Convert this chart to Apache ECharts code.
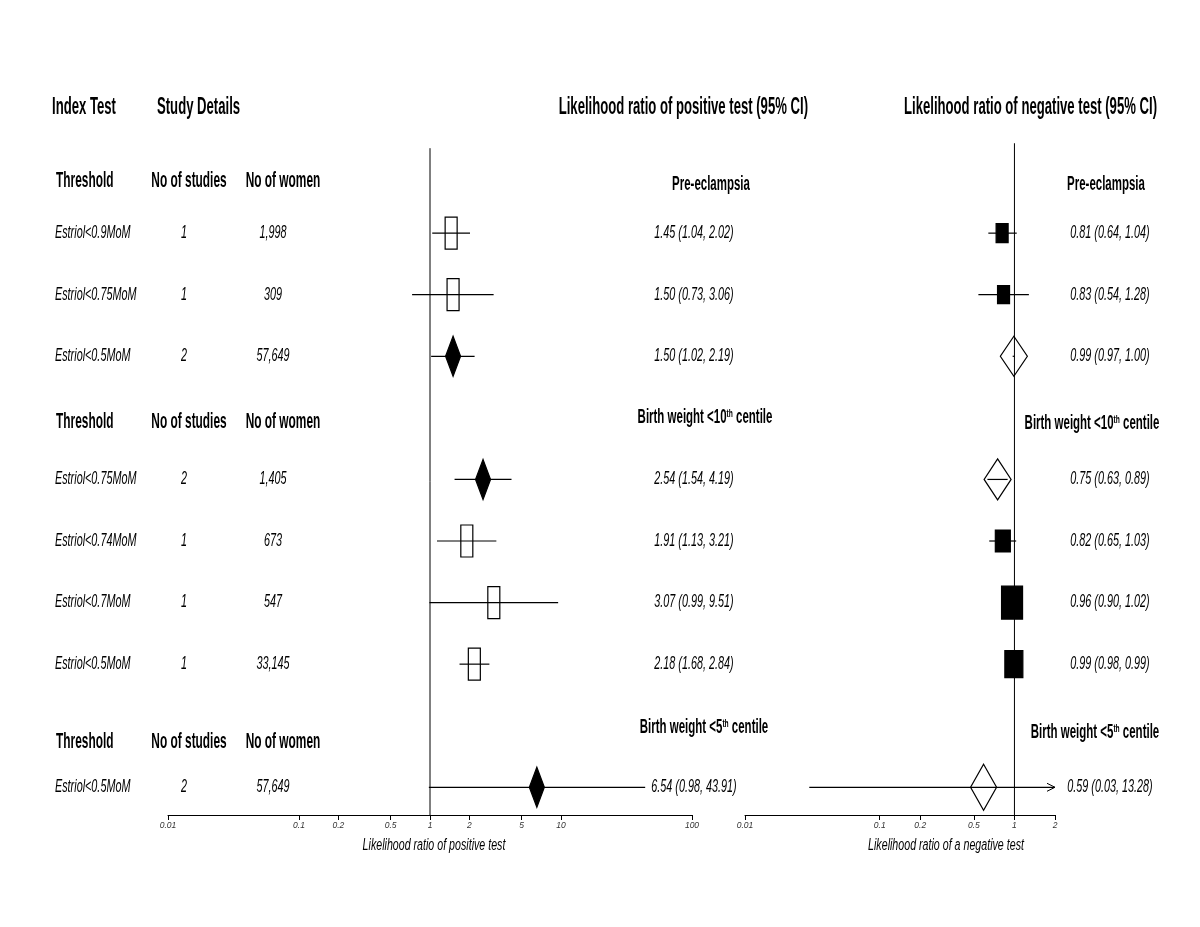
<!DOCTYPE html>
<html lang="en">
<head>
<meta charset="UTF-8">
<title>Estriol forest plot</title>
<script src="https://cdn.jsdelivr.net/npm/echarts@6/dist/echarts.min.js"></script>
</head>
<body style="margin:0;background:#fff;">
<div id="main" style="width:1200px;height:927px;"></div>
<script type="text/javascript">
// ---- data ----
var groups = ['Pre-eclampsia', 'Birth weight <10{sup|th} centile', 'Birth weight <5{sup|th} centile'];
var thresholds = ['Estriol<0.9MoM', 'Estriol<0.75MoM', 'Estriol<0.5MoM',
                  'Estriol<0.75MoM', 'Estriol<0.74MoM', 'Estriol<0.7MoM', 'Estriol<0.5MoM',
                  'Estriol<0.5MoM'];
var groupOf = [0, 0, 0, 1, 1, 1, 1, 2];
var nStudies = [1, 1, 2, 2, 1, 1, 1, 2];
var nWomen = [1998, 309, 57649, 1405, 673, 547, 33145, 57649];
var lrPos = [1.45, 1.50, 1.50, 2.54, 1.91, 3.07, 2.18, 6.54];
var lrPosLo = [1.04, 0.73, 1.02, 1.54, 1.13, 0.99, 1.68, 0.98];
var lrPosHi = [2.02, 3.06, 2.19, 4.19, 3.21, 9.51, 2.84, 43.91];
var lrNeg = [0.81, 0.83, 0.99, 0.75, 0.82, 0.96, 0.99, 0.59];
var lrNegLo = [0.64, 0.54, 0.97, 0.63, 0.65, 0.90, 0.98, 0.03];
var lrNegHi = [1.04, 1.28, 1.00, 0.89, 1.03, 1.02, 0.99, 13.28];
var posTicks = [0.01, 0.1, 0.2, 0.5, 1, 2, 5, 10, 100];
var negTicks = [0.01, 0.1, 0.2, 0.5, 1, 2];

// marker sizes [w, h] (drawing style)
var posSize = [[12, 32], [12, 32], [15, 40], [15, 40], [12, 32], [12, 32], [12, 32], [15, 40]];
var negSize = [[12, 19], [12, 18], [27, 40], [27, 41], [15, 22], [21, 33], [18, 27], [26, 46]];

// row index of each study, header rows in between
var rowOf = [], headRow = [];
var r = -1;
for (var i = 0; i < groupOf.length; i++) {
    if (i === 0 || groupOf[i] !== groupOf[i - 1]) { headRow.push(r); r++; }
    rowOf.push(r); r++;
}

function fmt(v) { return v.toFixed(2); }

var FONT = 'Liberation Sans';

function makeRender(panel, sizes, axisMax) {
    return function (params, api) {
        var i = params.dataIndex;
        var est = api.value(0), lo = api.value(1), hi = api.value(2), row = api.value(3);
        var clipped = hi > axisMax;
        var c = api.coord([est, row]);
        var a = api.coord([lo, row]);
        var b = api.coord([clipped ? axisMax : hi, row]);
        var pooled = nStudies[i] > 1;
        var filled = panel === 'pos' ? pooled : !pooled;
        var w = sizes[i][0], h = sizes[i][1];
        var kids = [{
            type: 'line',
            shape: { x1: a[0], y1: a[1], x2: b[0], y2: b[1] },
            style: { stroke: '#000', lineWidth: 1.2 }
        }];
        if (clipped) {
            kids.push({
                type: 'polyline',
                shape: { points: [[b[0] - 8, b[1] - 4], [b[0], b[1]], [b[0] - 8, b[1] + 4]] },
                style: { stroke: '#000', lineWidth: 1, fill: null }
            });
        }
        var st = { stroke: '#000', lineWidth: 1.2, fill: filled ? '#000' : null };
        if (pooled) {
            kids.push({
                type: 'polygon',
                shape: { points: [[c[0], c[1] - h / 2], [c[0] + w / 2, c[1]], [c[0], c[1] + h / 2], [c[0] - w / 2, c[1]]] },
                style: st
            });
        } else {
            kids.push({
                type: 'rect',
                shape: { x: c[0] - w / 2, y: c[1] - h / 2, width: w, height: h },
                style: st
            });
        }
        return { type: 'group', children: kids };
    };
}

function xAxisCfg(grid, min, max, ticks) {
    return {
        type: 'log', logBase: 10, gridIndex: grid, min: min, max: max, position: 'bottom',
        axisLine: { onZero: false, lineStyle: { color: '#000', width: 1 } },
        axisTick: { customValues: ticks, length: 5, lineStyle: { color: '#000' } },
        axisLabel: {
            customValues: ticks, fontSize: 8.5, fontStyle: 'italic', color: '#333', margin: 6,
            fontFamily: 'Liberation Sans Narrow, ' + FONT,
            formatter: function (v) { return String(+(+v).toPrecision(3)); }
        },
        splitLine: { show: false }
    };
}

function yAxisCfg(grid) {
    return { type: 'value', gridIndex: grid, min: -2, max: 9.45, inverse: true, show: false };
}

var myChart = echarts.init(document.getElementById('main'));
var option = {
    backgroundColor: '#fff',
    animation: false,
    grid: [
        { left: 168, width: 524, top: 110, height: 705, outerBoundsMode: 'none' },
        { left: 745, width: 310, top: 110, height: 705, outerBoundsMode: 'none' }
    ],
    xAxis: [xAxisCfg(0, 0.01, 100, posTicks), xAxisCfg(1, 0.01, 2, negTicks)],
    yAxis: [yAxisCfg(0), yAxisCfg(1)],
    series: [
        {
            type: 'line', xAxisIndex: 0, yAxisIndex: 0, symbol: 'none', silent: true,
            lineStyle: { color: '#000', width: 1 }, data: [[1, -1.38], [1, 9.45]]
        },
        {
            type: 'line', xAxisIndex: 1, yAxisIndex: 1, symbol: 'none', silent: true,
            lineStyle: { color: '#000', width: 1 }, data: [[1, -1.46], [1, 9.45]]
        },
        {
            type: 'custom', xAxisIndex: 0, yAxisIndex: 0, clip: false,
            renderItem: makeRender('pos', posSize, 100),
            encode: { x: [0, 1, 2], y: 3 },
            data: lrPos.map(function (v, i) { return [v, lrPosLo[i], lrPosHi[i], rowOf[i]]; })
        },
        {
            type: 'custom', xAxisIndex: 1, yAxisIndex: 1, clip: false,
            renderItem: makeRender('neg', negSize, 2),
            encode: { x: [0, 1, 2], y: 3 },
            data: lrNeg.map(function (v, i) { return [v, lrNegLo[i], lrNegHi[i], rowOf[i]]; })
        }
    ]
};
myChart.setOption(option);

// ---- text columns, placed on the same row scale ----
function rowY(row) { return myChart.convertToPixel({ gridIndex: 0 }, [1, row])[1]; }

function txt(x, y, s, o) {
    o = o || {};
    var size = o.size || 13.2;
    var weight = o.bold ? 'bold' : 'normal';
    return {
        type: 'text', x: x, y: y, scaleX: 0.82, scaleY: o.sy || 1.33, silent: true,
        style: {
            text: s, x: 0, y: 0, fill: '#000',
            fontFamily: FONT, fontSize: size, fontWeight: weight,
            fontStyle: o.italic ? 'italic' : 'normal',
            align: o.align || 'left', verticalAlign: 'middle',
            rich: {
                sup: { fontFamily: FONT, fontSize: size * 0.58, fontWeight: weight, verticalAlign: 'top', fill: '#000' }
            }
        }
    };
}

var H1 = { bold: true, size: 16, sy: 1.45 };
var H2 = { bold: true, size: 14.5, sy: 1.5 };
var H3 = { bold: true, size: 14, sy: 1.4 };
var threshY = [181, 422, 742];
var titleLx = [711, 705, 704], titleLy = [185, 418, 728];
var titleRx = [1106, 1092, 1095], titleRy = [185, 424, 733];

var g = [];
g.push(txt(52, 108, 'Index Test', H1));
g.push(txt(157, 108, 'Study Details', H1));
g.push(txt(808, 108, 'Likelihood ratio of positive test (95% CI)', Object.assign({ align: 'right' }, H1)));
g.push(txt(1157, 108, 'Likelihood ratio of negative test (95% CI)', Object.assign({ align: 'right' }, H1)));

for (var k = 0; k < groups.length; k++) {
    g.push(txt(56, threshY[k], 'Threshold', H2));
    g.push(txt(189, threshY[k], 'No of studies', Object.assign({ align: 'center' }, H2)));
    g.push(txt(283, threshY[k], 'No of women', Object.assign({ align: 'center' }, H2)));
    g.push(txt(titleLx[k], titleLy[k], groups[k], Object.assign({ align: 'center' }, H3)));
    g.push(txt(titleRx[k], titleRy[k], groups[k], Object.assign({ align: 'center' }, H3)));
}

for (var j = 0; j < thresholds.length; j++) {
    var y = rowY(rowOf[j]);
    g.push(txt(55, y, thresholds[j], { italic: true }));
    g.push(txt(184, y, String(nStudies[j]), { italic: true, align: 'center' }));
    g.push(txt(273, y, nWomen[j].toLocaleString('en-US'), { italic: true, align: 'center' }));
    g.push(txt(694, y, fmt(lrPos[j]) + ' (' + fmt(lrPosLo[j]) + ', ' + fmt(lrPosHi[j]) + ')', { italic: true, align: 'center' }));
    g.push(txt(1110, y, fmt(lrNeg[j]) + ' (' + fmt(lrNegLo[j]) + ', ' + fmt(lrNegHi[j]) + ')', { italic: true, align: 'center' }));
}

g.push(txt(434, 845, 'Likelihood ratio of positive test', { italic: true, size: 13, sy: 1.3, align: 'center' }));
g.push(txt(946, 845, 'Likelihood ratio of a negative test', { italic: true, size: 13, sy: 1.3, align: 'center' }));

myChart.setOption({ graphic: g });
</script>
</body>
</html>
